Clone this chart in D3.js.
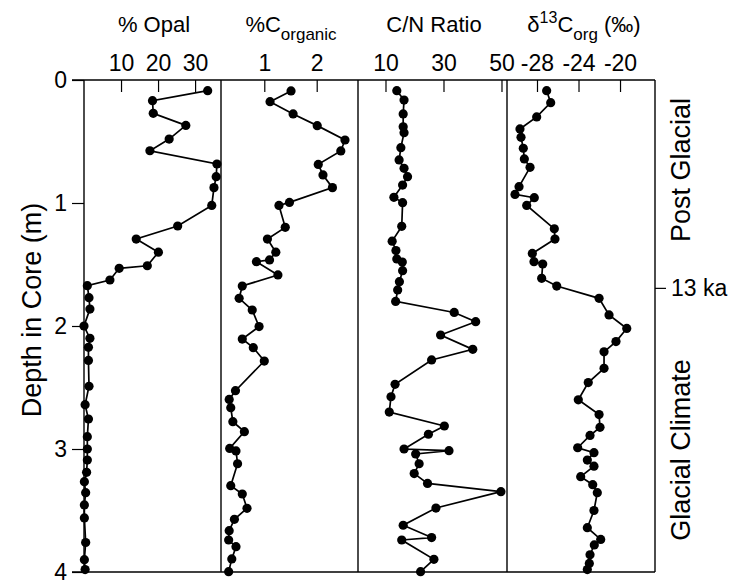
<!DOCTYPE html>
<html><head><meta charset="utf-8">
<script src="https://cdn.jsdelivr.net/npm/d3@7"></script>
<style>body{margin:0;background:#fff}svg{display:block}</style>
</head><body>
<svg id="c" width="739" height="583"></svg>
<script>
// ---- data (depth in m, value) ----
const opalDepth = [0.087,0.168,0.271,0.369,0.48,0.575,0.683,0.786,0.875,1.02,1.187,1.293,1.40,1.51,1.531,1.626,1.672,1.77,1.862,2.0,2.1,2.173,2.28,2.49,2.64,2.756,2.9,3.0,3.09,3.19,3.266,3.355,3.455,3.56,3.76,3.9,3.98];
const opalValue = [33.4,18.5,18.7,27.5,23,17.8,35.9,35.7,35.1,34.5,25.3,14.1,20.1,17.1,9.5,7.0,0.9,1.35,1.6,0,1.6,1.2,1.2,1.35,0.3,1.2,0.9,0.9,0.9,0.7,0.1,0.45,0.1,0.1,0.45,0.1,0.3];

const corgDepth = [0.089,0.176,0.276,0.371,0.488,0.577,0.686,0.772,0.875,0.995,1.02,1.198,1.293,1.40,1.463,1.477,1.585,1.675,1.775,1.87,2.005,2.106,2.176,2.285,2.526,2.597,2.664,2.778,2.859,2.995,3.016,3.12,3.298,3.366,3.482,3.572,3.664,3.74,3.794,3.894,3.997];
const corgValue = [1.51,1.11,1.55,2.01,2.54,2.46,2.03,2.12,2.30,1.48,1.28,1.40,1.06,1.22,1.10,0.85,1.26,0.58,0.52,0.77,0.90,0.58,0.79,1.0,0.45,0.33,0.36,0.40,0.62,0.34,0.46,0.49,0.36,0.58,0.67,0.43,0.33,0.32,0.46,0.38,0.32];

const cnDepth = [0.087,0.163,0.276,0.38,0.428,0.55,0.65,0.718,0.786,0.854,0.954,0.997,1.19,1.31,1.387,1.455,1.48,1.55,1.64,1.707,1.80,1.89,1.965,2.073,2.19,2.276,2.474,2.575,2.70,2.813,2.88,3.0,3.014,3.04,3.12,3.20,3.28,3.347,3.48,3.62,3.72,3.74,3.897,3.997];
const cnValue = [13.9,16.4,16.1,16.1,16.4,15.3,14.7,16.4,17.6,15.9,12.9,15.9,15.6,12.3,13.6,13.9,15.8,15.9,14.8,14.2,13.5,33.7,41.1,29.0,40.1,25.9,13.3,11.9,11.3,30.3,24.8,16.4,31.9,20.4,21.6,19.9,24.5,49.8,27.4,16.1,25.9,15.6,26.7,22.1];

const d13Depth = [0.087,0.184,0.30,0.398,0.466,0.555,0.642,0.71,0.867,0.93,0.957,1.02,1.21,1.293,1.41,1.477,1.496,1.612,1.675,1.775,1.91,2.02,2.127,2.21,2.344,2.46,2.6,2.72,2.824,2.89,2.99,3.03,3.09,3.14,3.225,3.29,3.355,3.50,3.64,3.735,3.78,3.86,3.93,3.98];
const d13Value = [-27.07,-26.68,-28.03,-29.64,-29.54,-29.32,-29.22,-28.67,-29.73,-30.12,-28.26,-28.99,-26.33,-26.27,-28.45,-28.29,-27.45,-27.55,-26.10,-22.02,-21.06,-19.35,-20.39,-21.54,-21.54,-23.06,-24.02,-22.02,-21.93,-22.89,-24.08,-22.51,-23.15,-22.51,-23.79,-22.63,-22.19,-22.51,-23.15,-21.86,-22.48,-22.89,-22.96,-23.15];

const depthTicks = [0,1,2,3,4];
const opalTicks = [10,20,30];
const corgTicks = [1,2];
const cnTicks = [10,30,50];
const d13Ticks = [-28,-24,-20];
const boundaryDepth = 1.69;
const boundaryLabel = "13 ka";

// ---- layout ----
const svg = d3.select("#c");
const FONT = "'Liberation Sans', Arial, Helvetica, sans-serif";
const yTop = 80, yBot = 572;
const y = d3.scaleLinear().domain([0,4]).range([yTop,yBot]);

const panels = [
  {depth: opalDepth, value: opalValue, ticks: opalTicks, x: d3.scaleLinear().domain([0,37]).range([84,221])},
  {depth: corgDepth, value: corgValue, ticks: corgTicks, x: d3.scaleLinear().domain([0.174,2.788]).range([221,358])},
  {depth: cnDepth, value: cnValue, ticks: cnTicks, x: d3.scaleLinear().domain([0.52,51.9]).range([358,507])},
  {depth: d13Depth, value: d13Value, ticks: d13Ticks, x: d3.scaleLinear().domain([-30.89,-16.63]).range([507,655])}
];

const xLeft = 84, xRight = 655;

// frame lines
svg.append("line").attr("x1",72).attr("x2",xRight).attr("y1",yTop).attr("y2",yTop)
  .attr("stroke","#000").attr("stroke-width",1.4);
svg.append("line").attr("x1",72).attr("x2",xRight).attr("y1",yBot).attr("y2",yBot)
  .attr("stroke","#000").attr("stroke-width",1.4);
[84,221,358,507,655].forEach(xx=>{
  svg.append("line").attr("x1",xx).attr("x2",xx).attr("y1",yTop).attr("y2",yBot)
    .attr("stroke","#000").attr("stroke-width",1.4);
});

// left depth axis
const yAxis = d3.axisLeft(y).tickValues(depthTicks).tickSize(12).tickPadding(5).tickFormat(d=>String(d));
const ga = svg.append("g").attr("transform",`translate(${xLeft},0)`).call(yAxis);
ga.select(".domain").remove();
ga.selectAll("line").attr("stroke","#000").attr("stroke-width",1.2);
ga.selectAll("text").attr("font-family",FONT).attr("font-size",23).attr("fill","#000");

// right boundary tick
const gr = svg.append("g").attr("transform",`translate(${xRight},0)`)
  .call(d3.axisRight(y).tickValues([boundaryDepth]).tickSize(11).tickPadding(5).tickFormat(()=>boundaryLabel));
gr.select(".domain").remove();
gr.selectAll("line").attr("stroke","#000").attr("stroke-width",1.2);
gr.selectAll("text").attr("font-family",FONT).attr("font-size",23).attr("fill","#000");

// panels
panels.forEach(p=>{
  const g = svg.append("g");
  const ax = d3.axisTop(p.x).tickValues(p.ticks).tickSize(-12).tickPadding(20).tickFormat(d=>String(d));
  const gx = g.append("g").attr("transform",`translate(0,${yTop})`).call(ax);
  gx.select(".domain").remove();
  gx.selectAll("line").attr("stroke","#000").attr("stroke-width",1.2);
  gx.selectAll("text").attr("font-family",FONT).attr("font-size",23).attr("fill","#000")
    .attr("dy",0).attr("y",-9);
  const pts = p.depth.map((d,i)=>[p.x(p.value[i]), y(d)]);
  g.append("path").attr("d", d3.line()(pts)).attr("fill","none").attr("stroke","#000").attr("stroke-width",1.7);
  g.selectAll("circle").data(pts).join("circle")
    .attr("cx",d=>d[0]).attr("cy",d=>d[1]).attr("r",4.6).attr("fill","#000");
});

// titles
function title(x, parts){
  const t = svg.append("text").attr("x",x).attr("y",32).attr("text-anchor","middle")
    .attr("font-family",FONT).attr("font-size",22).attr("fill","#000");
  parts.forEach(pp=>{
    const ts = t.append("tspan").text(pp.t);
    if(pp.dy) ts.attr("dy",pp.dy);
    if(pp.fs) ts.attr("font-size",pp.fs);
  });
}
title(154, [{t:"% Opal"}]);
title(291, [{t:"%C"},{t:"organic",dy:8,fs:17}]);
title(434, [{t:"C/N Ratio"}]);
title(584, [{t:"δ"},{t:"13",dy:-9,fs:16},{t:"C",dy:9},{t:"org",dy:8,fs:17},{t:" (‰)",dy:-8}]);

// axis titles
svg.append("text").attr("transform","translate(41,310) rotate(-90)").attr("text-anchor","middle")
  .attr("font-family",FONT).attr("font-size",27).attr("fill","#000").text("Depth in Core (m)");
svg.append("text").attr("transform","translate(690,170) rotate(-90)").attr("text-anchor","middle")
  .attr("font-family",FONT).attr("font-size",27).attr("fill","#000").text("Post Glacial");
svg.append("text").attr("transform","translate(690,450) rotate(-90)").attr("text-anchor","middle")
  .attr("font-family",FONT).attr("font-size",27).attr("fill","#000").text("Glacial Climate");
</script>
</body></html>
